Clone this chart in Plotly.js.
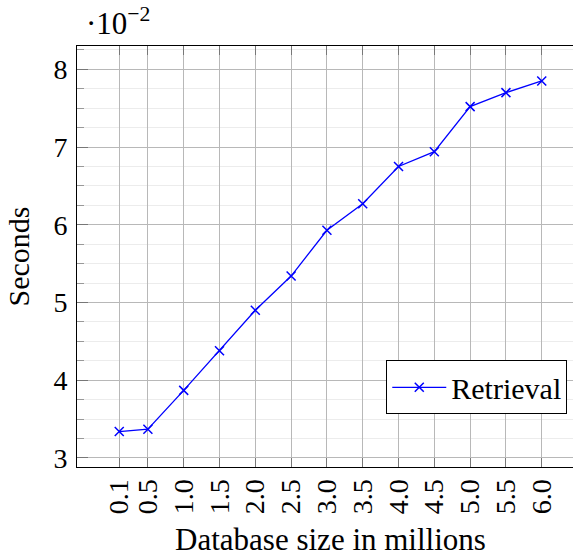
<!DOCTYPE html>
<html>
<head>
<meta charset="utf-8">
<script src="https://cdn.plot.ly/plotly-3.0.1.min.js"></script>
<style>
  html, body { margin: 0; padding: 0; overflow: hidden; background: #fff; }
  #chart { width: 600px; height: 557px; }
</style>
</head>
<body>
<div id="chart"></div>
<script>
// Database size (millions of records) against retrieval time (seconds)
const dbSizes = [0.1, 0.5, 1.0, 1.5, 2.0, 2.5, 3.0, 3.5, 4.0, 4.5, 5.0, 5.5, 6.0];
const retrievalSeconds = [0.0334, 0.0337, 0.0387, 0.0438, 0.0490, 0.0534, 0.0593,
                          0.0627, 0.0675, 0.0694, 0.0752, 0.0770, 0.0785];
const yTickValues = [0.03, 0.04, 0.05, 0.06, 0.07, 0.08];
const yScaleExp = -2;

const serif = "Liberation Serif, Times New Roman, serif";
const majorGrid = "#b8b8b8";
const minorGrid = "#ececec";

const trace = {
  x: dbSizes,
  y: retrievalSeconds,
  type: "scatter",
  mode: "lines+markers",
  name: "Retrieval",
  line: { color: "#0000ff", width: 1.3 },
  marker: { symbol: "x-thin", size: 9, color: "#0000ff",
            line: { color: "#0000ff", width: 1.5 } }
};

const layout = {
  width: 600,
  height: 557,
  margin: { l: 77, r: 16, t: 46, b: 90 },
  paper_bgcolor: "#fff",
  plot_bgcolor: "#fff",
  font: { family: serif, size: 28, color: "#000" },
  showlegend: true,
  legend: {
    x: 0.967, y: 0.2534, xanchor: "right", yanchor: "top",
    bgcolor: "#fff", bordercolor: "#000", borderwidth: 1,
    font: { family: serif, size: 30, color: "#000" },
    itemwidth: 54
  },
  xaxis: {
    range: [-0.49, 6.59],
    tickvals: dbSizes,
    ticktext: dbSizes.map(v => v.toFixed(1)),
    tickangle: -90,
    tickfont: { family: serif, size: 28 },
    ticks: "inside", ticklen: 9, tickcolor: "#777", tickwidth: 1,
    showgrid: true, gridcolor: majorGrid, gridwidth: 1,
    showline: true, linecolor: "#000", linewidth: 1, mirror: "ticks",
    zeroline: false,
    title: { text: "Database size in millions", font: { family: serif, size: 31 }, standoff: 15 },
    automargin: false
  },
  yaxis: {
    range: [0.02884, 0.0830],
    tickvals: yTickValues,
    ticktext: yTickValues.map(v => String(Math.round(v / Math.pow(10, yScaleExp)))),
    tickfont: { family: serif, size: 28 },
    ticklabelstandoff: 3,
    ticks: "inside", ticklen: 11, tickcolor: "#777", tickwidth: 1,
    showgrid: true, gridcolor: majorGrid, gridwidth: 1,
    showline: true, linecolor: "#000", linewidth: 1, mirror: "ticks",
    zeroline: false,
    minor: { dtick: 0.0025, ticks: "inside", ticklen: 7, tickcolor: "#999",
             showgrid: true, gridcolor: minorGrid, gridwidth: 1 },
    title: { text: "Seconds", font: { family: serif, size: 30 }, standoff: 14 },
    automargin: false
  },
  annotations: [{
    xref: "paper", yref: "paper", x: 0.014, y: 1.0,
    xanchor: "left", yanchor: "bottom", yshift: 3,
    showarrow: false,
    text: "·10<sup>−" + Math.abs(yScaleExp) + "</sup>",
    font: { family: serif, size: 31, color: "#000" }
  }]
};

Plotly.newPlot("chart", [trace], layout, { displayModeBar: false, staticPlot: true });
</script>
</body>
</html>
